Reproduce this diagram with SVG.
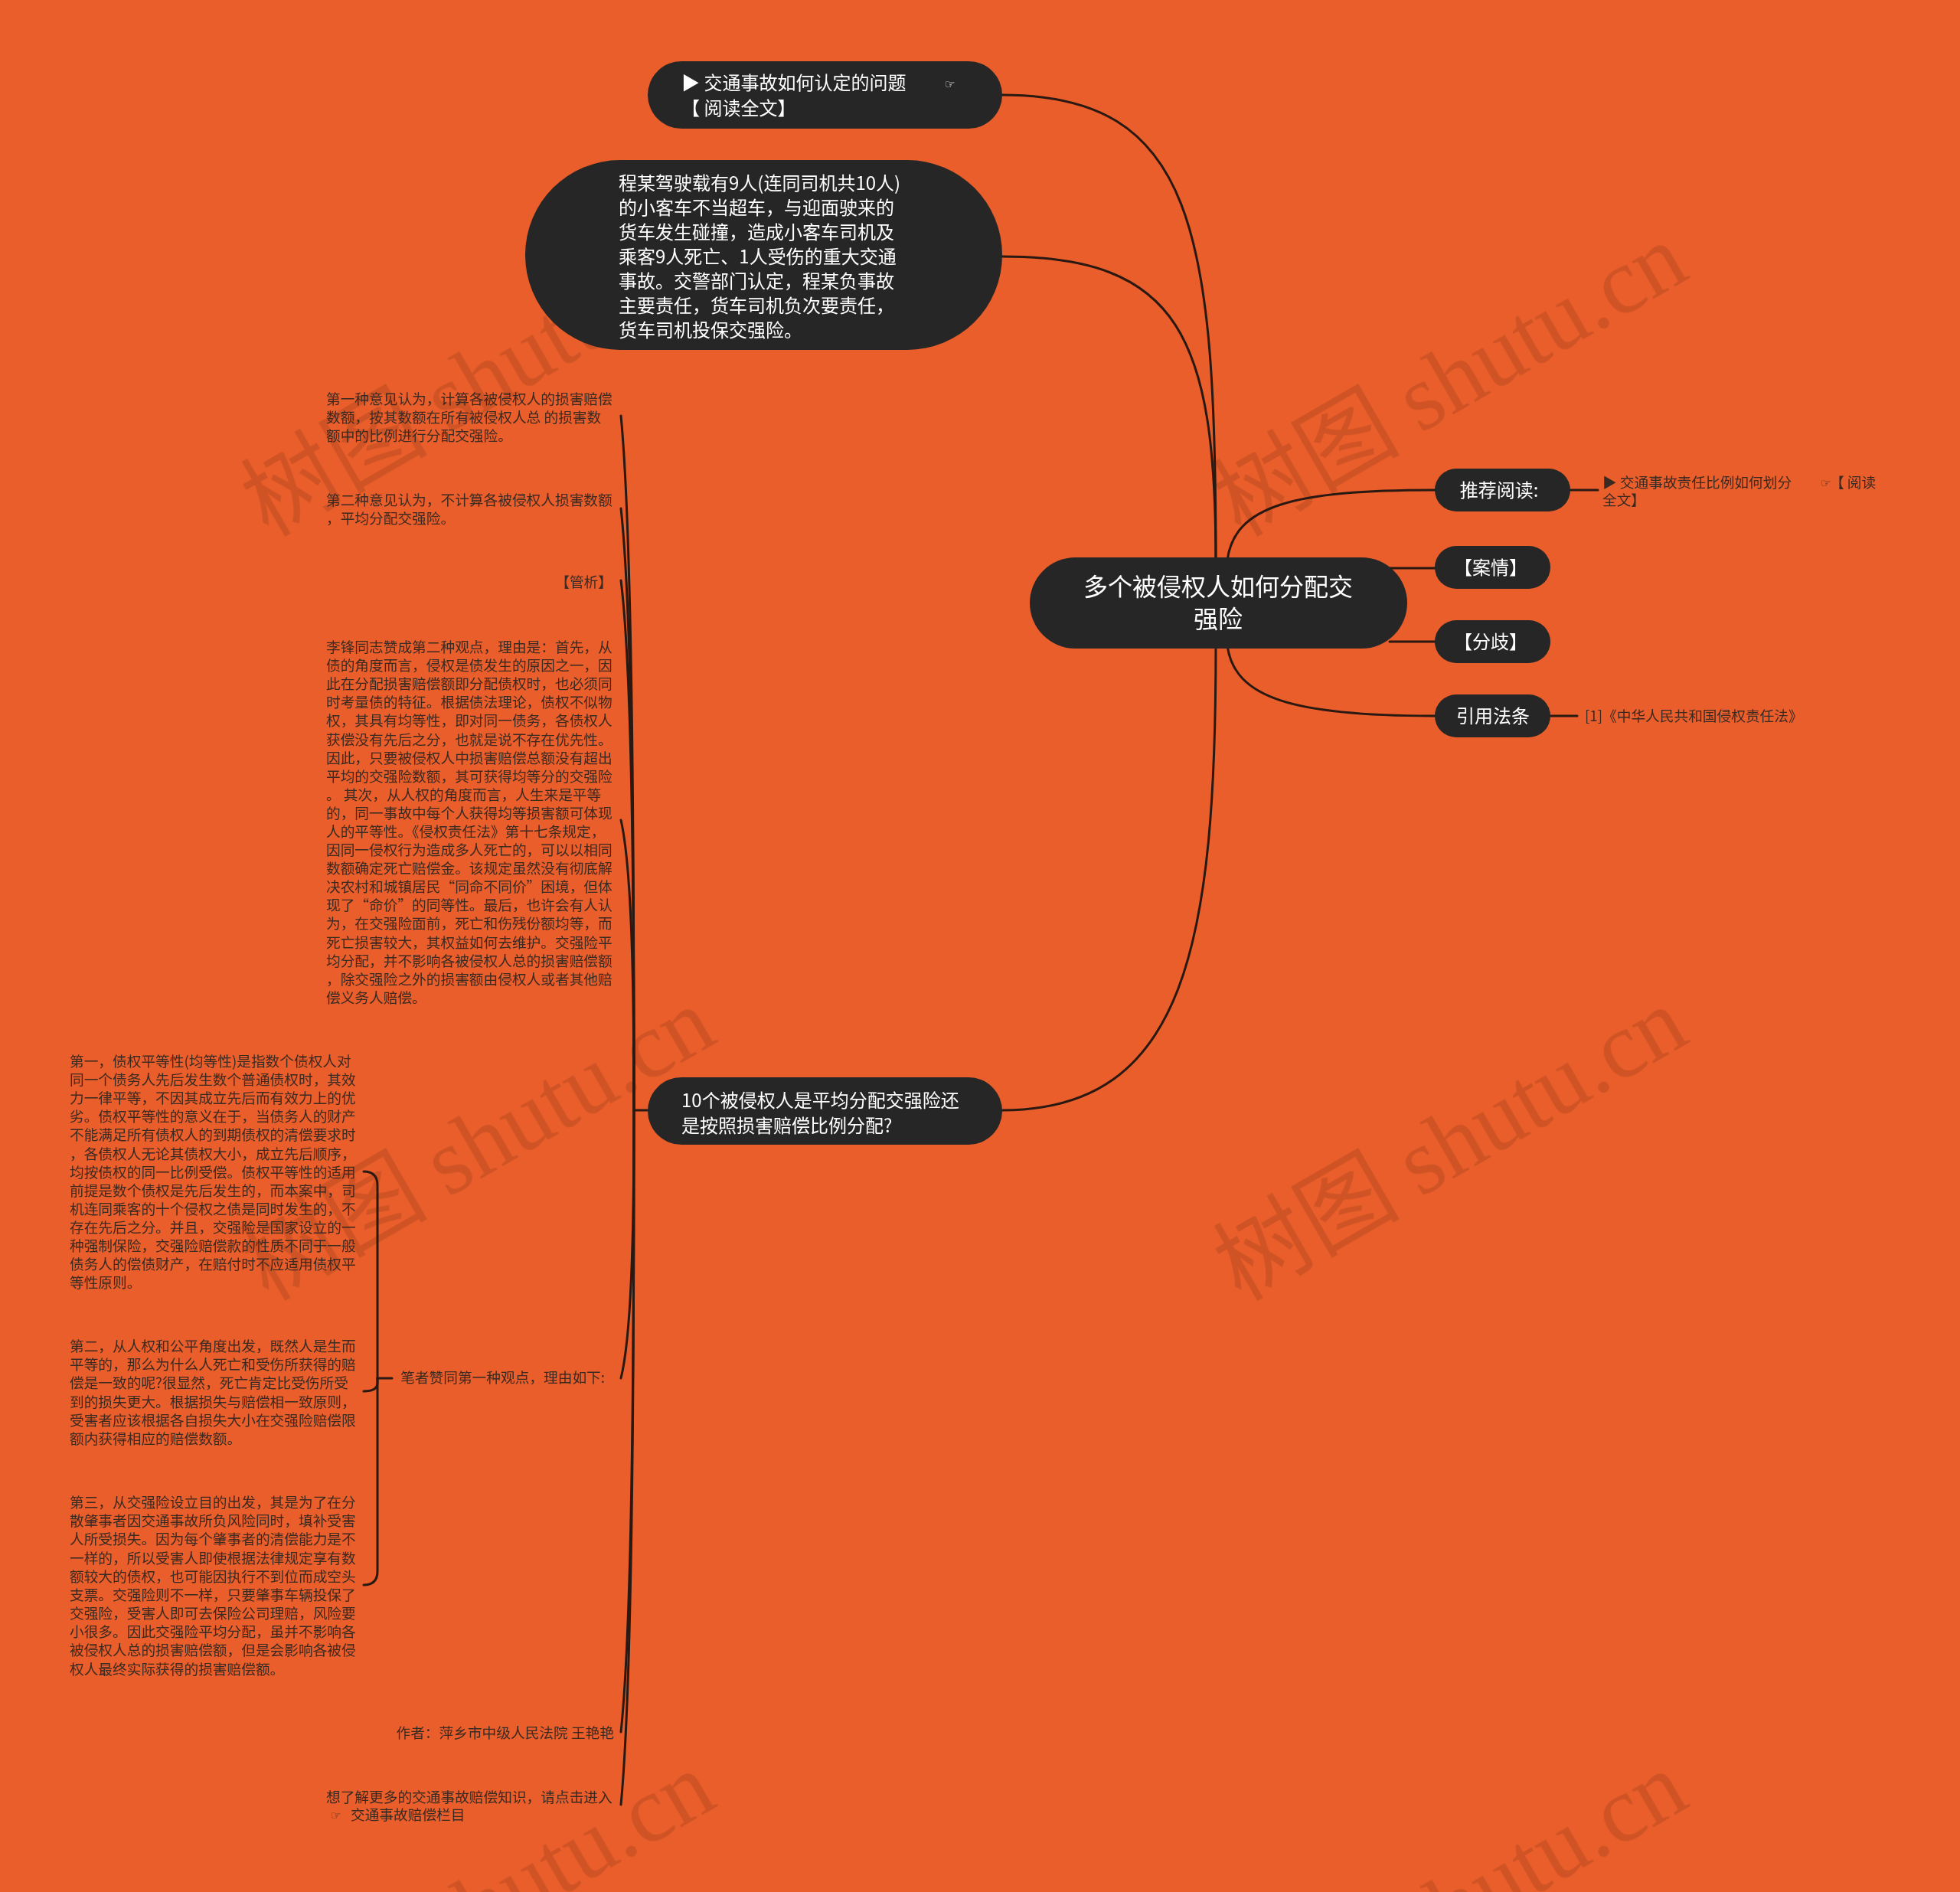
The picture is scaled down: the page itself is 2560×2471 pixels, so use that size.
<svg xmlns="http://www.w3.org/2000/svg" width="2560" height="2471" viewBox="0 0 2560 2471">
<style>
.bg{fill:#E95E2A}
.wm{font-family:"Noto Sans CJK SC","Noto Sans",sans-serif;font-size:122px;fill:#000;opacity:0.11}
.wm .lat{font-family:"Liberation Serif",serif}
.conn{fill:none;stroke:#2a1912;stroke-width:3;stroke-linecap:round}
.nd{fill:#262626}
.nt{font-family:"Noto Sans CJK SC","Noto Sans","DejaVu Sans",sans-serif;fill:#ffffff;font-size:24px}
.ct{font-size:32px}
.st{font-family:"Noto Sans CJK SC","Noto Sans","DejaVu Sans",sans-serif;fill:#3b2a22;font-size:18.7px}
.mid{text-anchor:middle}
.end{text-anchor:end}
.ic{font-family:"DejaVu Sans",sans-serif;font-size:15px}
</style>
<rect class="bg" x="0" y="0" width="2560" height="2471"/>
<g id="watermarks" class="wm">
<text transform="translate(350,702) rotate(-30)">树图 <tspan class="lat">shutu.cn</tspan></text>
<text transform="translate(1620,702) rotate(-30)">树图 <tspan class="lat">shutu.cn</tspan></text>
<text transform="translate(350,1700) rotate(-30)">树图 <tspan class="lat">shutu.cn</tspan></text>
<text transform="translate(1620,1700) rotate(-30)">树图 <tspan class="lat">shutu.cn</tspan></text>
<text transform="translate(350,2698) rotate(-30)">树图 <tspan class="lat">shutu.cn</tspan></text>
<text transform="translate(1620,2698) rotate(-30)">树图 <tspan class="lat">shutu.cn</tspan></text>
</g>
<g id="connectors" class="conn">
<path d="M1588 735 C1588 300 1560 124 1309 124"/>
<path d="M1588 735 C1588 440 1540 335 1309 335"/>
<path d="M1588 840 C1588 1230 1550 1450 1309 1450"/>
<path d="M1603 732 C1612 660 1690 640 1874 640"/>
<path d="M1815 742 H1874"/>
<path d="M1815 838 H1874"/>
<path d="M1603 843 C1612 912 1690 935 1874 935"/>
<path d="M2051 640 H2087"/>
<path d="M2025 935 H2060"/>
<path d="M846 1450 H828"/>
<path d="M828 1450 C828 996 824 679 811 543"/>
<path d="M828 1450 C828 1057 824 782 811 664"/>
<path d="M828 1450 C828 1104 824 862 811 758"/>
<path d="M828 1450 C828 1261 824 1128 811 1071"/>
<path d="M828 1450 C828 1625 824 1748 811 1800"/>
<path d="M828 1450 C828 1856 824 2140 811 2262"/>
<path d="M828 1450 C828 1904 824 2221 811 2357"/>
<path d="M512 1800 H493"/>
<path d="M493 1800 V1548 Q493 1530 475 1530"/>
<path d="M493 1800 V1806 Q493 1817 475 1817"/>
<path d="M493 1800 V2052 Q493 2070 475 2070"/>
</g>
<g id="node-root">
<rect class="nd" x="1345" y="728" width="493" height="119" rx="59.5"/>
<text class="nt ct mid"><tspan x="1591" y="778">多个被侵权人如何分配交</tspan><tspan x="1591" y="820">强险</tspan></text>
</g>
<g id="node-read1">
<rect class="nd" x="846" y="80" width="463" height="88" rx="44"/>
<text class="nt"><tspan x="890" y="117">▶ 交通事故如何认定的问题</tspan><tspan x="890" y="150">【 阅读全文】</tspan></text>
<text class="nt ic" x="1234" y="115">☞</text>
</g>
<g id="node-case">
<rect class="nd" x="686" y="209" width="623" height="248" rx="124"/>
<text class="nt"><tspan x="808" y="248">程某驾驶载有9人(连同司机共10人)</tspan><tspan x="808" y="280">的小客车不当超车，与迎面驶来的</tspan><tspan x="808" y="312">货车发生碰撞，造成小客车司机及</tspan><tspan x="808" y="344">乘客9人死亡、1人受伤的重大交通</tspan><tspan x="808" y="376">事故。交警部门认定，程某负事故</tspan><tspan x="808" y="408">主要责任，货车司机负次要责任，</tspan><tspan x="808" y="440">货车司机投保交强险。</tspan></text>
</g>
<g id="node-question">
<rect class="nd" x="846" y="1407" width="463" height="88" rx="44"/>
<text class="nt"><tspan x="890" y="1446">10个被侵权人是平均分配交强险还</tspan><tspan x="890" y="1479">是按照损害赔偿比例分配?</tspan></text>
</g>
<g id="node-recommend">
<rect class="nd" x="1874" y="612" width="177" height="56" rx="28"/>
<text class="nt mid" x="1958" y="649">推荐阅读:</text>
</g>
<g id="node-anqing">
<rect class="nd" x="1874" y="713" width="151" height="56" rx="28"/>
<text class="nt mid" x="1947" y="750">【案情】</text>
</g>
<g id="node-fenqi">
<rect class="nd" x="1874" y="810" width="151" height="56" rx="28"/>
<text class="nt mid" x="1947" y="847">【分歧】</text>
</g>
<g id="node-law">
<rect class="nd" x="1874" y="907" width="151" height="56" rx="28"/>
<text class="nt mid" x="1950" y="944">引用法条</text>
</g>
<g id="text-recommend">
<text class="st"><tspan x="2093" y="637">▶ 交通事故责任比例如何划分</tspan><tspan x="2093" y="660">全文】</tspan></text>
<text class="st ic" x="2378" y="636">☞</text>
<text class="st" x="2390" y="637">【 阅读</text>
</g>
<g id="text-law">
<text class="st" x="2070" y="942">[1]《中华人民共和国侵权责任法》</text>
</g>
<g id="text-opinion1">
<text class="st"><tspan x="426" y="528">第一种意见认为，计算各被侵权人的损害赔偿</tspan><tspan x="426" y="552">数额，按其数额在所有被侵权人总 的损害数</tspan><tspan x="426" y="576">额中的比例进行分配交强险。</tspan></text>
</g>
<g id="text-opinion2">
<text class="st"><tspan x="426" y="660">第二种意见认为，不计算各被侵权人损害数额</tspan><tspan x="426" y="684">，平均分配交强险。</tspan></text>
</g>
<g id="text-guanxi">
<text class="st end" x="800" y="767">【管析】</text>
</g>
<g id="text-lifeng">
<text class="st"><tspan x="426" y="852">李锋同志赞成第二种观点，理由是：首先，从</tspan><tspan x="426" y="876">债的角度而言，侵权是债发生的原因之一，因</tspan><tspan x="426" y="900">此在分配损害赔偿额即分配债权时，也必须同</tspan><tspan x="426" y="924">时考量债的特征。根据债法理论，债权不似物</tspan><tspan x="426" y="948">权，其具有均等性，即对同一债务，各债权人</tspan><tspan x="426" y="973">获偿没有先后之分，也就是说不存在优先性。</tspan><tspan x="426" y="997">因此，只要被侵权人中损害赔偿总额没有超出</tspan><tspan x="426" y="1021">平均的交强险数额，其可获得均等分的交强险</tspan><tspan x="426" y="1045">。 其次，从人权的角度而言，人生来是平等</tspan><tspan x="426" y="1069">的，同一事故中每个人获得均等损害额可体现</tspan><tspan x="426" y="1093">人的平等性。《侵权责任法》第十七条规定，</tspan><tspan x="426" y="1117">因同一侵权行为造成多人死亡的，可以以相同</tspan><tspan x="426" y="1141">数额确定死亡赔偿金。该规定虽然没有彻底解</tspan><tspan x="426" y="1165">决农村和城镇居民“同命不同价”困境，但体</tspan><tspan x="426" y="1189">现了“命价”的同等性。最后，也许会有人认</tspan><tspan x="426" y="1213">为，在交强险面前，死亡和伤残份额均等，而</tspan><tspan x="426" y="1238">死亡损害较大，其权益如何去维护。交强险平</tspan><tspan x="426" y="1262">均分配，并不影响各被侵权人总的损害赔偿额</tspan><tspan x="426" y="1286">，除交强险之外的损害额由侵权人或者其他赔</tspan><tspan x="426" y="1310">偿义务人赔偿。</tspan></text>
</g>
<g id="text-author-view">
<text class="st end" x="790" y="1806">笔者赞同第一种观点，理由如下:</text>
</g>
<g id="text-reason1">
<text class="st"><tspan x="91" y="1393">第一，债权平等性(均等性)是指数个债权人对</tspan><tspan x="91" y="1417">同一个债务人先后发生数个普通债权时，其效</tspan><tspan x="91" y="1441">力一律平等，不因其成立先后而有效力上的优</tspan><tspan x="91" y="1465">劣。债权平等性的意义在于，当债务人的财产</tspan><tspan x="91" y="1489">不能满足所有债权人的到期债权的清偿要求时</tspan><tspan x="91" y="1514">，各债权人无论其债权大小，成立先后顺序，</tspan><tspan x="91" y="1538">均按债权的同一比例受偿。债权平等性的适用</tspan><tspan x="91" y="1562">前提是数个债权是先后发生的，而本案中，司</tspan><tspan x="91" y="1586">机连同乘客的十个侵权之债是同时发生的，不</tspan><tspan x="91" y="1610">存在先后之分。并且，交强险是国家设立的一</tspan><tspan x="91" y="1634">种强制保险，交强险赔偿款的性质不同于一般</tspan><tspan x="91" y="1658">债务人的偿债财产，在赔付时不应适用债权平</tspan><tspan x="91" y="1682">等性原则。</tspan></text>
</g>
<g id="text-reason2">
<text class="st"><tspan x="91" y="1765">第二，从人权和公平角度出发，既然人是生而</tspan><tspan x="91" y="1789">平等的，那么为什么人死亡和受伤所获得的赔</tspan><tspan x="91" y="1813">偿是一致的呢?很显然，死亡肯定比受伤所受</tspan><tspan x="91" y="1838">到的损失更大。根据损失与赔偿相一致原则，</tspan><tspan x="91" y="1862">受害者应该根据各自损失大小在交强险赔偿限</tspan><tspan x="91" y="1886">额内获得相应的赔偿数额。</tspan></text>
</g>
<g id="text-reason3">
<text class="st"><tspan x="91" y="1969">第三，从交强险设立目的出发，其是为了在分</tspan><tspan x="91" y="1993">散肇事者因交通事故所负风险同时，填补受害</tspan><tspan x="91" y="2017">人所受损失。因为每个肇事者的清偿能力是不</tspan><tspan x="91" y="2042">一样的，所以受害人即使根据法律规定享有数</tspan><tspan x="91" y="2066">额较大的债权，也可能因执行不到位而成空头</tspan><tspan x="91" y="2090">支票。交强险则不一样，只要肇事车辆投保了</tspan><tspan x="91" y="2114">交强险，受害人即可去保险公司理赔，风险要</tspan><tspan x="91" y="2138">小很多。因此交强险平均分配，虽并不影响各</tspan><tspan x="91" y="2162">被侵权人总的损害赔偿额，但是会影响各被侵</tspan><tspan x="91" y="2187">权人最终实际获得的损害赔偿额。</tspan></text>
</g>
<g id="text-author">
<text class="st end" x="802" y="2270">作者：萍乡市中级人民法院 王艳艳</text>
</g>
<g id="text-more">
<text class="st" x="426" y="2354">想了解更多的交通事故赔偿知识，请点击进入</text>
<text class="st ic" x="432" y="2376">☞</text>
<text class="st" x="458" y="2377">交通事故赔偿栏目</text>
</g>
</svg>
